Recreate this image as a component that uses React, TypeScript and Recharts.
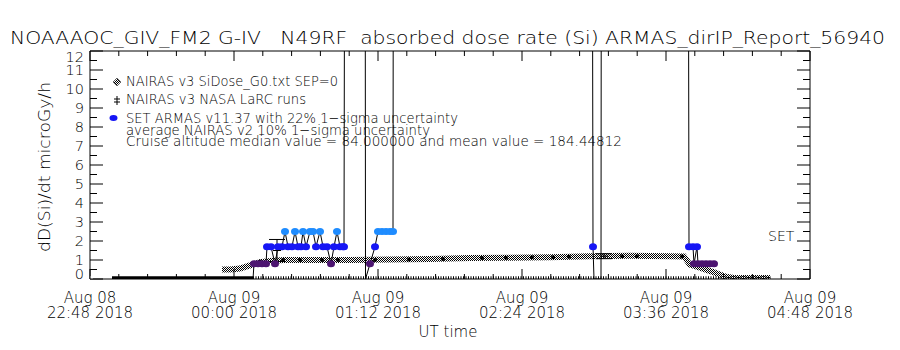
import React from 'react';
import { ComposedChart, Line, Scatter, XAxis, YAxis, ErrorBar } from 'recharts';

// x values are minutes after 2018-08-08 22:48 UT
const timeTicks = [0, 14.4, 28.8, 43.2, 57.6, 72, 86.4, 100.8, 115.2, 129.6, 144, 158.4, 172.8, 187.2, 201.6, 216, 230.4, 244.8, 259.2, 273.6, 288, 302.4, 316.8, 331.2, 345.6, 360];
const majorTimeTicks = [0, 72, 144, 216, 288, 360];
const tickDates = ['Aug 08', 'Aug 09', 'Aug 09', 'Aug 09', 'Aug 09', 'Aug 09'];
const tickTimes = ['22:48 2018', '00:00 2018', '01:12 2018', '02:24 2018', '03:36 2018', '04:48 2018'];
const doseTicks = [0, 0.5, 1, 1.5, 2, 2.5, 3, 3.5, 4, 4.5, 5, 5.5, 6, 6.5, 7, 7.5, 8, 8.5, 9, 9.5, 10, 10.5, 11, 11.5, 12];

const titleText = 'NOAAAOC_GIV_FM2 G-IV   N49RF  absorbed dose rate (Si) ARMAS_dirIP_Report_56940';
const legendLines = [
  'NAIRAS v3 SiDose_G0.txt SEP=0',
  'NAIRAS v3 NASA LaRC runs',
  'SET ARMAS v11.37 with 22% 1\u2212sigma uncertainty',
  'average NAIRAS v2 10% 1\u2212sigma uncertainty',
  'Cruise altitude median value = 84.000000 and mean value = 184.44812',
];

// NAIRAS v3 SiDose_G0 (hatched band)
const nairasMin = [66, 70, 75, 80, 85, 90, 97, 110, 130, 150, 170, 190, 210, 230, 250, 270, 290, 297, 300, 305, 312, 318, 322, 340];
const nairasDose = [0.5, 0.5, 0.55, 0.72, 0.88, 0.95, 1.0, 1.0, 1.0, 1.02, 1.05, 1.1, 1.12, 1.15, 1.2, 1.22, 1.2, 1.18, 0.75, 0.6, 0.35, 0.12, 0.05, 0.05];

// NASA LaRC runs: near-zero baseline and points on the NAIRAS band
const larcBaseMinA = [11, 81.5];
const larcBaseDoseA = [0.07, 0.07];
const larcBaseMinB = [81.5, 340.5];
const larcBaseDoseB = [0.07, 0.07];
const larcDotMin = [85, 96.5, 105, 116, 124, 142.5, 159.5, 176.5, 196, 208, 221, 231.5, 239.5, 266, 273.5, 296];
const larcDotDose = [0.92, 1.0, 1.0, 1.0, 1.0, 1.0, 1.03, 1.05, 1.1, 1.12, 1.14, 1.15, 1.17, 1.2, 1.2, 1.18];

// average NAIRAS v2 with uncertainty
const avgMin = [93.5, 257];
const avgDose = [1.5, 1.2];
const avgErr = [0.58, 0.13];

// SET ARMAS
const armasMin = [81.5, 82, 84, 86, 88, 88.5, 90.5, 92.5, 94, 96, 97.5, 99, 101, 102.5, 104, 105.5, 106.5, 108, 110, 111.5, 113, 115, 116.5, 118.5, 120.5, 122, 123.5, 125, 126.5, 127, 127.5, 137.5, 137.75, 140, 142.5, 144, 146, 148, 150, 151.5, 151.75, 251, 251.5, 252, 255.5, 255.75, 299, 299.5, 301.5, 302, 303.5, 304, 306, 308, 310, 312];
const armasDose = [0, 0.8, 0.8, 0.8, 0.8, 1.7, 1.7, 0.8, 1.7, 1.7, 2.5, 1.7, 1.7, 2.5, 1.7, 1.7, 2.5, 1.7, 2.5, 2.5, 1.7, 2.5, 1.7, 1.7, 0.8, 1.7, 2.5, 1.7, 1.7, 1.7, 30, 30, 0, 0.8, 1.7, 2.5, 2.5, 2.5, 2.5, 2.5, 30, 30, 1.7, 0, 0, 30, 30, 1.7, 1.7, 0.8, 1.7, 0.8, 0.8, 0.8, 0.8, 0.8];

const zip = (ts: number[], vs: number[]) => ts.map((t, i) => ({ t, v: vs[i] }));
const nairasData = zip(nairasMin, nairasDose);
const larcA = zip(larcBaseMinA, larcBaseDoseA);
const larcB = zip(larcBaseMinB, larcBaseDoseB);
const larcDots = zip(larcDotMin, larcDotDose);
const avgData = avgMin.map((t, i) => ({ t, v: avgDose[i], e: avgErr[i] }));
const armasData = zip(armasMin, armasDose);

const FONT = '"DejaVu Sans", sans-serif';
const FW = 200;

const armasColor = (v: number) =>
  v > 12 ? null : v > 2.1 ? '#1e8cff' : v > 1.3 ? '#1616f5' : v > 0.4 ? '#4c1470' : null;

const BottomTick = (props: any) => {
  const { x, y, payload } = props;
  const idx = majorTimeTicks.indexOf(payload.value);
  const major = idx >= 0;
  return (
    <g>
      <line x1={x} x2={x} y1={y} y2={y - (major ? 10 : 5)} stroke="#000" />
      {major && (
        <text x={x} y={y + 24} textAnchor="middle" fontSize={15} fontFamily={FONT} fontWeight={FW} fill="#000">
          {tickDates[idx]}
        </text>
      )}
      {major && (
        <text x={x} y={y + 39} textAnchor="middle" fontSize={15} fontFamily={FONT} fontWeight={FW} fill="#000">
          {tickTimes[idx]}
        </text>
      )}
    </g>
  );
};

const TopTick = (props: any) => {
  const { x, y, payload } = props;
  const major = majorTimeTicks.indexOf(payload.value) >= 0;
  return <line x1={x} x2={x} y1={y} y2={y + (major ? 10 : 5)} stroke="#000" />;
};

const LeftTick = (props: any) => {
  const { x, y, payload } = props;
  const v = payload.value;
  const major = Number.isInteger(v);
  const ly = v === 0 ? y - 5 : v === 12 ? y + 6 : y;
  return (
    <g>
      <line x1={x} x2={x + (major ? 13 : 7)} y1={y} y2={y} stroke="#000" />
      {major && (
        <text x={x - 6} y={ly} textAnchor="end" dominantBaseline="central" fontSize={14.5} fontFamily={FONT} fontWeight={FW} fill="#000">
          {v}
        </text>
      )}
    </g>
  );
};

const RightTick = (props: any) => {
  const { x, y, payload } = props;
  const major = Number.isInteger(payload.value);
  return <line x1={x} x2={x - (major ? 13 : 7)} y1={y} y2={y} stroke="#000" />;
};

const ArmasDot = (props: any) => {
  const { cx, cy, payload, index } = props;
  const c = armasColor(payload.v);
  if (!c || cx == null || cy == null) return <g key={`ad${index}`} />;
  return <ellipse key={`ad${index}`} cx={cx} cy={cy} rx={4} ry={3.5} fill={c} />;
};

const LarcDot = (props: any) => {
  const { cx, cy, index } = props;
  return <circle key={`ld${index}`} cx={cx} cy={cy} r={2} fill="#000" />;
};

const AvgShape = (props: any) => {
  const { cx, cy } = props;
  return <line x1={cx - 4} x2={cx + 4} y1={cy} y2={cy} stroke="#000" />;
};

export default function App() {
  return (
    <div style={{ position: 'absolute', left: 0, top: 0, width: 900, height: 350, background: '#fff' }}>
      <svg width={0} height={0} style={{ position: 'absolute' }}>
        <defs>
          <pattern id="checker" width="2" height="2" patternUnits="userSpaceOnUse">
            <rect width="2" height="2" fill="#fff" />
            <rect width="1" height="1" fill="#000" />
            <rect x="1" y="1" width="1" height="1" fill="#000" />
          </pattern>
        </defs>
      </svg>
      <ComposedChart width={900} height={350} margin={{ top: 41, right: 80, bottom: 41, left: 50 }}>
        <XAxis xAxisId="b" type="number" dataKey="t" domain={[0, 360]} ticks={timeTicks} interval={0}
          tickSize={0} tickMargin={0} tick={<BottomTick />} height={30} stroke="#000" allowDataOverflow />
        <XAxis xAxisId="t" orientation="top" type="number" dataKey="t" domain={[0, 360]} ticks={timeTicks} interval={0}
          tickSize={0} tickMargin={0} tick={<TopTick />} height={10} stroke="#000" allowDataOverflow />
        <YAxis yAxisId="l" type="number" dataKey="v" domain={[0, 12]} ticks={doseTicks} interval={0}
          tickSize={0} tickMargin={0} tick={<LeftTick />} width={40} stroke="#000" allowDataOverflow />
        <YAxis yAxisId="r" orientation="right" type="number" dataKey="v" domain={[0, 12]} ticks={doseTicks} interval={0}
          tickSize={0} tickMargin={0} tick={<RightTick />} width={10} stroke="#000" allowDataOverflow />

        <Line xAxisId="t" yAxisId="r" data={[{ t: 0, v: 0 }]} dataKey="v" stroke="none" dot={false} activeDot={false} isAnimationActive={false} />

        <Line xAxisId="b" yAxisId="l" data={nairasData} dataKey="v" type="linear" stroke="url(#checker)" strokeWidth={6}
          dot={false} activeDot={false} isAnimationActive={false} />
        <Line xAxisId="b" yAxisId="l" data={larcA} dataKey="v" type="linear" stroke="#000" strokeWidth={3}
          dot={false} activeDot={false} isAnimationActive={false} />
        <Line xAxisId="b" yAxisId="l" data={larcB} dataKey="v" type="linear" stroke="#000" strokeWidth={3} strokeDasharray="1 1.5"
          dot={false} activeDot={false} isAnimationActive={false} />
        <Line xAxisId="b" yAxisId="l" data={larcDots} dataKey="v" stroke="none" dot={<LarcDot />}
          activeDot={false} isAnimationActive={false} />
        <Line xAxisId="b" yAxisId="l" data={armasData} dataKey="v" type="linear" stroke="#000" strokeWidth={1}
          dot={<ArmasDot />} activeDot={false} isAnimationActive={false} />
        <Scatter xAxisId="b" yAxisId="l" data={avgData} dataKey="v" shape={<AvgShape />} isAnimationActive={false}>
          <ErrorBar dataKey="e" direction="y" width={8} stroke="#000" strokeWidth={1} isAnimationActive={false} />
        </Scatter>
      </ComposedChart>
      <svg width={900} height={350} style={{ position: 'absolute', left: 0, top: 0, pointerEvents: 'none' }}>
        <text x={10} y={44} fontSize={18} fontFamily={FONT} fontWeight={FW} textLength={875} lengthAdjust="spacingAndGlyphs"
          style={{ whiteSpace: 'pre' }} fill="#000">{titleText}</text>
        <text x={45} y={167} transform="rotate(-90 45 167)" textAnchor="middle" dominantBaseline="central" fontSize={15}
          fontFamily={FONT} fontWeight={FW} textLength={170} lengthAdjust="spacingAndGlyphs" fill="#000">dD(Si)/dt microGy/h</text>
        <text x={448} y={337} textAnchor="middle" fontSize={15} fontFamily={FONT} fontWeight={FW} fill="#000">UT time</text>
        <text x={768} y={241} fontSize={14} fontFamily={FONT} fontWeight={FW} fill="#000">SET</text>

        <polygon points="113,82 117,78 121,82 117,86" fill="url(#checker)" stroke="#555" strokeWidth={0.8} />
        <line x1={117} x2={117} y1={96} y2={105} stroke="#000" />
        <line x1={114} x2={120} y1={99} y2={99} stroke="#000" />
        <line x1={114} x2={120} y1={102} y2={102} stroke="#000" />
        <ellipse cx={113.5} cy={118} rx={4} ry={3} fill="#1616f5" />

        <text x={126} y={86} fontSize={14} fontFamily={FONT} fontWeight={FW} textLength={212} lengthAdjust="spacingAndGlyphs" fill="#000">{legendLines[0]}</text>
        <text x={126} y={104} fontSize={14} fontFamily={FONT} fontWeight={FW} textLength={180} lengthAdjust="spacingAndGlyphs" fill="#000">{legendLines[1]}</text>
        <text x={126} y={123} fontSize={14} fontFamily={FONT} fontWeight={FW} textLength={332} lengthAdjust="spacingAndGlyphs" fill="#000">{legendLines[2]}</text>
        <text x={126} y={135} fontSize={14} fontFamily={FONT} fontWeight={FW} textLength={304} lengthAdjust="spacingAndGlyphs" fill="#000">{legendLines[3]}</text>
        <text x={126} y={146} fontSize={14} fontFamily={FONT} fontWeight={FW} textLength={496} lengthAdjust="spacingAndGlyphs" fill="#000">{legendLines[4]}</text>
      </svg>
    </div>
  );
}
